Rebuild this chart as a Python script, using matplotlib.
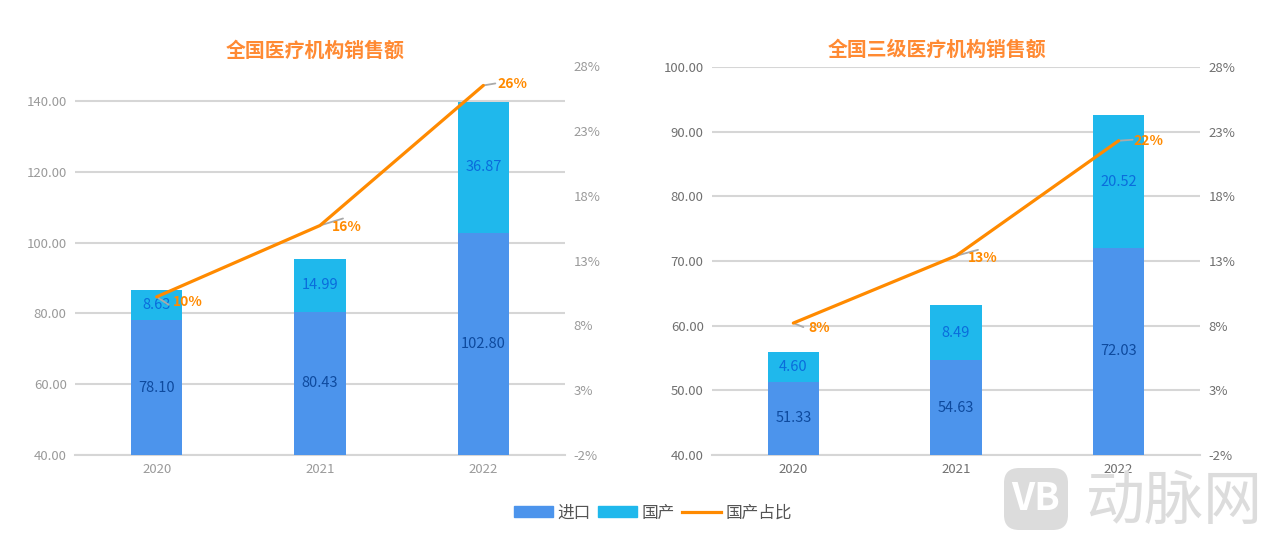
import matplotlib
matplotlib.use('Agg')
import matplotlib.pyplot as plt
from matplotlib.patches import FancyBboxPatch, Patch
from matplotlib.lines import Line2D

plt.rcParams['font.family'] = ['Noto Sans CJK SC', 'DejaVu Sans']

years = ['2020', '2021', '2022']

all_import = [78.10, 80.43, 102.80]
all_domestic = [8.63, 14.99, 36.87]
all_share = [10.2, 15.7, 26.5]
all_share_labels = ['10%', '16%', '26%']

top_import = [51.33, 54.63, 72.03]
top_domestic = [4.60, 8.49, 20.52]
top_share = [8.2, 13.4, 22.3]
top_share_labels = ['8%', '13%', '22%']

left_ticks = [40, 60, 80, 100, 120, 140]
right_ticks = [40, 50, 60, 70, 80, 90, 100]
share_ticks = [-2, 3, 8, 13, 18, 23, 28]

BLUE = '#4C94EC'
CYAN = '#1FB8EC'
ORANGE = '#FF8A00'
GRID = '#D6D6D6'

W, H = 1268, 541
fig = plt.figure(figsize=(W / 100, H / 100), dpi=100)


def make_axes(x0, x1, y_top, y_bot):
    return fig.add_axes([x0 / W, 1 - y_bot / H, (x1 - x0) / W, (y_bot - y_top) / H])


def draw_panel(ax, imp, dom, share, share_labels, ticks, ylim, title, title_x, title_y, tick_color, offsets, tips):
    x = list(range(len(years)))
    ax.bar(x, imp, width=0.315, color=BLUE, zorder=3)
    ax.bar(x, dom, width=0.315, bottom=imp, color=CYAN, zorder=3)
    ax.set_xlim(-0.5, 2.5)
    ax.set_ylim(*ylim)
    ax.set_xticks(x, years)
    ax.set_yticks(ticks, ['%.2f' % t for t in ticks])
    ax.grid(axis='y', color=GRID, lw=1.5, zorder=0)
    ax.set_axisbelow(True)
    for s in ['top', 'left', 'right']:
        ax.spines[s].set_visible(False)
    ax.spines['bottom'].set_color(GRID)
    ax.spines['bottom'].set_linewidth(1.5)
    ax.tick_params(axis='both', length=0, labelsize=9.5, labelcolor=tick_color)
    ax.tick_params(axis='x', pad=6)
    ax.tick_params(axis='y', pad=6)

    for i in x:
        ax.text(i, ylim[0] + (imp[i] - ylim[0]) / 2, '%.2f' % imp[i], ha='center', va='center',
                fontsize=10.5, color='#0E4A9E', zorder=5)
        ax.text(i, imp[i] + dom[i] / 2, '%.2f' % dom[i], ha='center', va='center',
                fontsize=10.5, color='#0A6CDC', zorder=5)

    ax2 = ax.twinx()
    ax2.plot(x, share, color=ORANGE, lw=2.3, zorder=6, solid_capstyle='round')
    ax2.set_ylim(-2, 28)
    ax2.set_yticks(share_ticks, ['%d%%' % t for t in share_ticks])
    ax2.tick_params(axis='y', length=0, labelsize=9.5, labelcolor=tick_color, pad=6)
    for s in ax2.spines.values():
        s.set_visible(False)

    for i in x:
        # grey leader from the point, label sits beside it
        ax2.annotate('', xy=(i, share[i]), xytext=tips[i], textcoords='offset pixels',
                     arrowprops=dict(arrowstyle='-', color='#AAAAAA', lw=1.3, shrinkA=0, shrinkB=0))
        ax2.annotate(share_labels[i], xy=(i, share[i]), xytext=offsets[i], textcoords='offset pixels',
                     ha='left', va='center', fontsize=10, color=ORANGE, fontweight='bold')

    ax2.text(title_x, title_y, title, transform=ax.transAxes, ha='center', va='center',
             fontsize=14.3, color='#FF8A33', fontweight='bold')


ax_l = make_axes(75, 565, 66, 455)
draw_panel(ax_l, all_import, all_domestic, all_share, all_share_labels, left_ticks, (40, 149.9),
           '全国医疗机构销售额', 0.49, 1.04, '#9A9A9A',
           [(16, -5), (12, -2), (14, 1)], [(12, -8), (23, 7), (12, 2)])

ax_r = make_axes(712, 1200, 67, 455)
draw_panel(ax_r, top_import, top_domestic, top_share, top_share_labels, right_ticks, (40, 100),
           '全国三级医疗机构销售额', 0.461, 1.045, '#707070',
           [(15, -5), (12, -2), (15, 0)], [(10, -4), (22, 6), (14, 1)])

# legend
handles = [Patch(color=BLUE, label='进口'), Patch(color=CYAN, label='国产'),
           Line2D([0], [0], color=ORANGE, lw=2.3, label='国产占比')]
fig.legend(handles=handles, loc='center', bbox_to_anchor=(653 / W, 1 - 513 / H), ncol=3, frameon=False,
           fontsize=12, labelcolor='#555555', handlelength=2.35, handletextpad=0.3,
           columnspacing=0.4, handleheight=0.6)

# watermark
fig.add_artist(FancyBboxPatch((1004 / W, 1 - 530 / H), 64 / W, 62 / H, boxstyle='round,pad=0,rounding_size=0.012',
                              transform=fig.transFigure, fc='#DCDCDC', ec='none', mutation_aspect=2.3))
fig.text(1036 / W, 1 - 499 / H, 'VB', color='white', fontsize=27, fontweight='bold', ha='center', va='center')
fig.text(1174 / W, 1 - 502 / H, '动脉网', color='#DCDCDC', fontsize=42.5, ha='center', va='center')

fig.savefig('out.png', dpi=100)
